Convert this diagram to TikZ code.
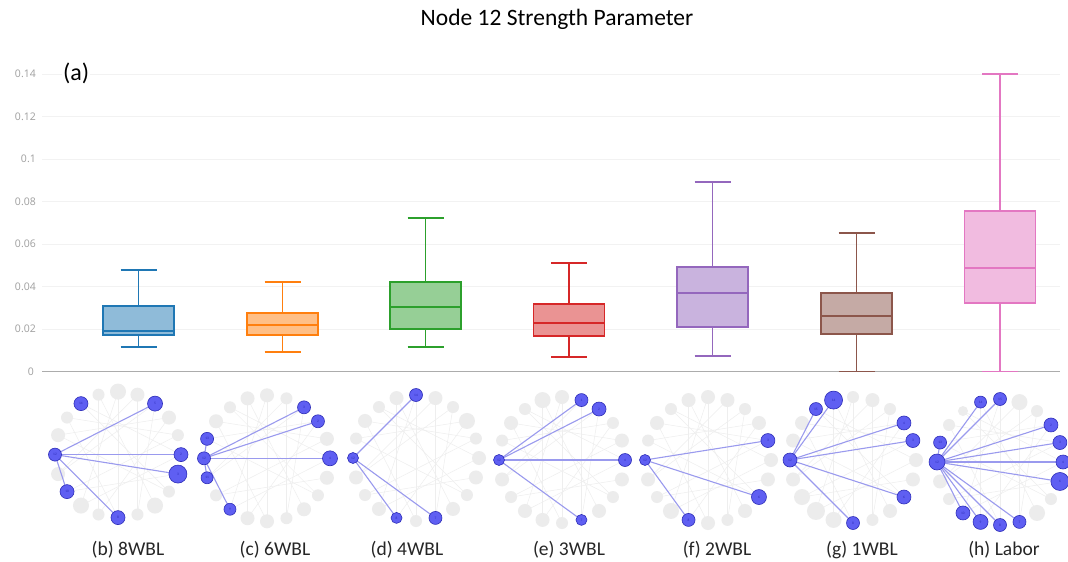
\documentclass[tikz,border=0pt]{standalone}
\usepackage{fontspec}
\setmainfont{Carlito}
\newfontfamily\tickfamily{Open Sans}

\definecolor{cBlue}{HTML}{1F77B4}
\definecolor{cOrange}{HTML}{FF7F0E}
\definecolor{cGreen}{HTML}{2CA02C}
\definecolor{cRed}{HTML}{D62728}
\definecolor{cPurple}{HTML}{9467BD}
\definecolor{cBrown}{HTML}{8C564B}
\definecolor{cPink}{HTML}{E377C2}
\definecolor{netblue}{HTML}{5F5FF2}
\definecolor{netrim}{HTML}{2E2EB8}
\definecolor{netline}{HTML}{9A9AEE}

\tikzset{
  grid line/.style={draw=gray!10, line width=0.8pt},
  axis line/.style={draw=gray!65, line width=1.2pt},
  tick label/.style={anchor=east, text=gray!75, inner sep=0pt,
    font=\tickfamily\fontsize{10.5}{12}\selectfont},
  boxline/.style={line width=1.6pt},
  graynode/.style={circle, fill=gray!15, draw=none, inner sep=0pt},
  bluenode/.style={circle, fill=netblue, draw=netrim, line width=0.6pt,
    inner sep=0pt, text=netrim, font=\fontsize{3.5}{4}\selectfont},
  grayedge/.style={draw=gray!13, line width=0.5pt},
  blueedge/.style={draw=netline, line width=1.1pt},
  panel label/.style={font=\fontsize{19.5}{23}\selectfont, text=black!85},
}

% one box with whiskers: colour, centre x, low, q1, median, q3, high (data units)
\newcommand{\whiskerbox}[7]{%
  \draw[boxline, draw=#1, fill=#1!50] ({#2-35.5},{yv(#4)}) rectangle ({#2+35.5},{yv(#6)});
  \draw[boxline, draw=#1] ({#2-35.5},{yv(#5)}) -- ({#2+35.5},{yv(#5)});
  \draw[boxline, draw=#1] (#2,{yv(#6)}) -- (#2,{yv(#7)})
    ({#2-18},{yv(#7)}) -- ({#2+18},{yv(#7)});
  \draw[boxline, draw=#1] (#2,{yv(#4)}) -- (#2,{yv(#3)})
    ({#2-18},{yv(#3)}) -- ({#2+18},{yv(#3)});
}

% chords shared by every ring
\newcommand{\ringchords}{0/7,1/12,2/14,3/16,4/11,5/13,6/17,8/15,9/18,12/19,2/9,5/15,0/13,7/18,3/11,6/14,1/8,4/16}

% ring network: prefix, centre, grey k/r, blue edge targets, blue k/label/r
\newcommand{\ringnet}[5]{%
  \begin{scope}[shift={(#2)}]
    \foreach \k in {0,...,19}
      \coordinate (#1-\k) at ({63*cos(18*\k)},{-63*sin(18*\k)});
    \foreach \a/\b in \ringchords
      \draw[grayedge] (#1-\a) -- (#1-\b);
    \foreach \k/\r in {#3}
      \node[graynode, minimum size=2*\r] (#1-g\k) at (#1-\k) {};
    \foreach \b in {#4}
      \draw[blueedge] (#1-10) -- (#1-\b);
    \foreach \k/\t/\r in {#5}
      \node[bluenode, minimum size=2*\r] (#1-n\k) at (#1-\k) {\t};
  \end{scope}
}

\begin{document}
\begin{tikzpicture}[x=1pt, y=-1pt, declare function={yv(\v)=371.5-2125*\v;}]
  \useasboundingbox (0,0) rectangle (1068,562);
  \fill[white] (0,0) rectangle (1068,562);

  % grid and tick labels
  \foreach \v/\t in {0.02/0.02,0.04/0.04,0.06/0.06,0.08/0.08,0.1/0.1,0.12/0.12,0.14/0.14}{
    \draw[grid line] (42,{yv(\v)}) -- (1060,{yv(\v)});
    \node[tick label] (tick\t) at (36,{yv(\v)}) {\t};
  }
  \node[tick label] (tick0) at (34,{yv(0)}) {0};
  \draw[axis line] (42,{yv(0)}) -- (1060,{yv(0)});

  % title and panel tag
  \node[font=\fontsize{23.5}{27}\selectfont] (title) at (557,19) {Node 12 Strength Parameter};
  \node[font=\fontsize{24}{28}\selectfont, anchor=west, fill=white, inner sep=1pt] (tag) at (62,73) {(a)};

  % box plots
  \whiskerbox{cBlue}{138.5}{0.0115}{0.0172}{0.0191}{0.0308}{0.0478}
  \whiskerbox{cOrange}{282.5}{0.0092}{0.0172}{0.0219}{0.0275}{0.0421}
  \whiskerbox{cGreen}{425.5}{0.0115}{0.0200}{0.0304}{0.0421}{0.0722}
  \whiskerbox{cRed}{569}{0.0068}{0.0167}{0.0228}{0.0318}{0.0511}
  \whiskerbox{cPurple}{712.5}{0.0073}{0.0209}{0.0369}{0.0492}{0.0892}
  \whiskerbox{cBrown}{856.5}{0}{0.0176}{0.0261}{0.0369}{0.0652}
  \whiskerbox{cPink}{1000}{0}{0.0322}{0.0487}{0.0755}{0.14}

  % ring networks
  \ringnet{b}{118,454.6}
    {1/6,2/7,4/7,5/8,6/6,8/6,9/7,11/7,13/8,14/6,16/6,17/8,18/6}
    {0,3,12,15,19}
    {0/2/7,3/5/7.5,7/14/7,10/12/6.5,12/10/7,15/8/7,19/3/9}
  \ringnet{c}{267,458.3}
    {1/7,4/6,5/7,6/7,7/6,8/7,12/6,14/7,15/7,16/6,17/7,18/6,19/7}
    {0,2,3,9,11,13}
    {0/4/7.5,2/2/6.5,3/3/6.5,9/13/6.5,10/12/6.5,11/11/6,13/9/6}
  \ringnet{d}{416,458}
    {0/7,1/6,2/8,3/6,4/7,6/7,7/6,8/7,9/6,11/7,12/6,13/7,15/6,17/7,18/6,19/7}
    {5,14,16}
    {5/14/6.5,10/12/5.5,14/8/5.5,16/7/6.5}
  \ringnet{e}{562,460}
    {1/7,2/6,5/7,6/8,7/6,8/7,9/6,11/7,12/6,13/7,14/7,15/6,17/7,18/6,19/7}
    {0,3,4,16}
    {0/4/6.5,3/2/7,4/1/6.5,10/12/5.5,16/7/5.5}
  \ringnet{f}{708,460}
    {0/7,2/7,3/6,4/7,5/7,6/7,7/6,8/7,9/6,11/7,12/6,13/8,15/7,16/6,17/7,19/7}
    {1,14,18}
    {1/3/7,10/12/5.5,14/8/6.5,18/6/7.5}
  \ringnet{g}{853,460}
    {0/7,3/6,4/7,5/6,8/7,9/7,11/7,12/8,13/9,14/8,16/6,17/7,19/7}
    {1,2,6,7,15,18}
    {1/3/7,2/4/7,6/14/9,7/15/6.5,10/12/7,15/8/6.5,18/6/7}
  \ringnet{h}{1000,462}
    {3/6,4/8,7/5,8/6,11/7,12/6,17/8,18/6}
    {0,1,2,5,6,9,13,14,15,16,19}
    {0/4/7,1/3/7,2/2/7,5/15/6.5,6/14/6,9/13/6.5,10/12/8,13/10/7,14/9/7.5,15/8/6.5,16/7/6.5,19/6/9}

  % panel captions
  \node[panel label] (capb) at (128,550) {(b) 8WBL};
  \node[panel label] (capc) at (275,550) {(c) 6WBL};
  \node[panel label] (capd) at (407,550) {(d) 4WBL};
  \node[panel label] (cape) at (569,550) {(e) 3WBL};
  \node[panel label] (capf) at (717,550) {(f) 2WBL};
  \node[panel label] (capg) at (862,550) {(g) 1WBL};
  \node[panel label] (caph) at (1004,550) {(h) Labor};
\end{tikzpicture}
\end{document}
